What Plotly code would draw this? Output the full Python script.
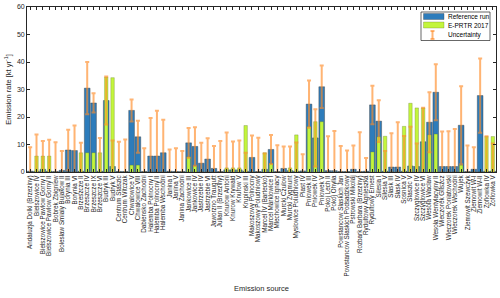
import plotly.graph_objects as go

sources = [
    "Andaluzja Dolki (Brzeziny)", "Bielszowice IV", "Bielszowice Pawlow Gorny I",
    "Bielszowice Pawlow Gorny II", "Bobrek Zbigniew", "Boleslaw Smialy Bujakow II",
    "Borynia III", "Borynia VI", "Brzeszcze II", "Brzeszcze IV", "Brzeszcze IX",
    "Brzeszcze VI", "Budryk III", "Budryk V", "Centrum Staszic", "Centrum Witczak",
    "Chwalowice V", "Chwalowice VIII", "Dabiensko Zachodni", "Halemba Polnocny I",
    "Halemba Polnocny II", "Halemba Wschodni", "Janina I", "Janina V",
    "Janina Zachodni", "Jankowice III", "Jankowice IV", "Jastrzebie IV",
    "Jastrzebie VI", "Jaworzno Traugutt", "Julian II (Brzeziny)", "Knurow Antoni",
    "Knurow Krywald", "Knurow V", "Krupinski III", "Makoszowy Polnocny",
    "Makoszowy Poludniowy", "Marcel IV (Bartecko)", "Marcel Marklowice I",
    "Mlechowice Ignacy", "Murcki Czulow", "Murcki Zygmunt", "Myslowice Poludniowy",
    "Piast IV", "Pniowek III", "Pniowek IV", "Pniowek V", "Pokoj Lech II",
    "Pokoj Ohylia", "Powstancow Slaskich Jan", "Powstancow Slaskich Podsadzkowy",
    "Pstrowski Mikolaj", "Rozbark Barbara (Brzeziny)", "Rydultowy Agnieszka",
    "Rydultowy Ernest", "Silesia I", "Silesia V", "Slask III", "Slask IV",
    "Sosnica V", "Staszic V", "Szczyglowice IV", "Szczyglowice VI", "Wesola Waclaw",
    "Wesola Wentylacyjny II", "Wieczorek Gliszcz", "Wieczorek Poniatowski",
    "Wieczorek Wschodni", "Wujek", "Ziemowit Szewczyk", "Ziemowit W-I",
    "Ziemowit W-II", "Zofiowka IV", "Zofiowka V",
]

reference_run = [
    0.3, 0.3, 1.0, 0.3, 0.2, 0.6, 8.0, 7.8, 0.3, 30.5, 25.1, 0.3, 26.0, 2.0, 0.2, 0.2,
    22.4, 12.8, 0.2, 5.8, 5.8, 7.0, 0.3, 0.2, 0.2, 10.6, 9.3, 3.2, 4.7, 1.3, 0.2, 0.8,
    0.8, 0.8, 0.3, 5.3, 0.2, 1.0, 8.2, 0.2, 1.3, 0.5, 0.3, 0.4, 24.7, 12.4, 31.0, 0.5,
    0.5, 0.2, 0.2, 1.0, 0.2, 0.3, 24.4, 18.5, 0.3, 1.8, 1.8, 0.3, 2.2, 2.0, 11.0, 18.1,
    29.0, 2.0, 2.0, 2.0, 17.0, 0.2, 1.0, 27.8, 0.3, 0.3,
]

eprtr_2017 = [
    0, 5.8, 5.8, 5.8, 0, 0, 0, 0, 7.0, 7.0, 7.0, 7.0, 34.5, 34.3, 0, 0,
    2.5, 2.5, 0, 0, 0, 0, 0, 0, 0, 5.5, 2.2, 0, 0, 0, 0, 1.5,
    1.5, 1.5, 16.9, 0, 0, 7.0, 3.0, 0, 0, 1.5, 13.5, 0, 16.5, 18.3, 18.3, 0,
    0, 0, 0, 0, 0, 0, 7.3, 12.8, 13.0, 0, 0, 16.6, 25.0, 23.3, 23.3, 13.5,
    13.8, 0, 0, 0, 2.5, 0, 0, 0, 12.9, 12.9,
]

uncertainty = [
    8.7, 13.3, 10.3, 11.4, 10.6, 7.0, 7.4, 9.1, 10.3, 9.5, 3.5, 12.1, 8.7, 9.5, 10.8, 11.6,
    4.0, 5.8, 8.4, 13.8, 16.5, 12.0, 7.9, 8.4, 7.4, 5.4, 7.0, 7.4, 7.6, 8.2, 11.1, 13.6,
    10.3, 10.7, 6.7, 8.0, 12.3, 5.7, 5.3, 9.5, 8.0, 8.8, 10.4, 6.1, 8.6, 10.4, 7.7, 12.5,
    14.4, 9.3, 7.6, 8.6, 14.3, 4.8, 7.0, 7.6, 7.3, 12.3, 16.3, 12.8, 14.3, 8.4, 12.4, 10.9,
    10.2, 12.7, 12.8, 13.6, 14.2, 9.4, 8.0, 13.5, 12.7, 10.1,
]

y_ticks = [0, 10, 20, 30, 40, 50, 60]
legend_labels = ["Reference run", "E-PRTR 2017", "Uncertainty"]

FONT = "Liberation Sans, Arial, sans-serif"
TXT = "#262626"
BLUE = "#2d7cbb"
GREEN = "#c3f53c"
ORANGE = "rgba(255,140,40,0.65)"

fig = go.Figure()
fig.add_trace(go.Bar(
    x=sources, y=reference_run, name=legend_labels[0], width=0.9,
    marker=dict(color=BLUE, line=dict(color="rgba(60,60,60,0.7)", width=0.6)),
))
fig.add_trace(go.Bar(
    x=sources, y=eprtr_2017, name=legend_labels[1], width=0.55,
    marker=dict(color=GREEN, line=dict(color="rgba(90,110,40,0.6)", width=0.5)),
))
fig.add_trace(go.Scatter(
    x=sources, y=reference_run, name=legend_labels[2], mode="markers",
    marker=dict(size=1, color="rgba(0,0,0,0)"),
    error_y=dict(type="data", array=uncertainty, visible=True,
                 color=ORANGE, thickness=2, width=2),
))

# manual compact legend (paper coordinates)
def px(x):
    return (x - 27) / 469.0

def py(y):
    return 1 - (y - 7) / 165.0

shapes = [
    dict(type="rect", xref="paper", yref="paper", x0=px(421), x1=px(490), y0=py(40.5), y1=py(12),
         fillcolor="white", line=dict(color=TXT, width=0.7)),
    dict(type="rect", xref="paper", yref="paper", x0=px(423.5), x1=px(444), y0=py(19.5), y1=py(13.5),
         fillcolor=BLUE, line=dict(color="rgba(60,60,60,0.7)", width=0.5)),
    dict(type="rect", xref="paper", yref="paper", x0=px(423.5), x1=px(444), y0=py(28), y1=py(22),
         fillcolor=GREEN, line=dict(color="rgba(90,110,40,0.6)", width=0.5)),
    dict(type="line", xref="paper", yref="paper", x0=px(432.5), x1=px(432.5), y0=py(39), y1=py(31),
         line=dict(color=ORANGE, width=2)),
    dict(type="line", xref="paper", yref="paper", x0=px(430.5), x1=px(434.5), y0=py(39), y1=py(39),
         line=dict(color=ORANGE, width=2)),
    dict(type="line", xref="paper", yref="paper", x0=px(430.5), x1=px(434.5), y0=py(31), y1=py(31),
         line=dict(color=ORANGE, width=2)),
]
annotations = [
    dict(xref="paper", yref="paper", x=px(446), y=py(yy), text=t, showarrow=False,
         xanchor="left", yanchor="middle", font=dict(size=6.5, color="black"))
    for t, yy in zip(legend_labels, [16.5, 25, 35])
]

fig.update_layout(
    width=500, height=298,
    margin=dict(l=27, r=4, t=7, b=126, autoexpand=False),
    barmode="overlay", bargap=0.1,
    paper_bgcolor="white", plot_bgcolor="white",
    font=dict(family=FONT, size=7, color=TXT),
    showlegend=False,
    shapes=shapes, annotations=annotations,
)
fig.update_xaxes(
    type="category", tickangle=-90, tickfont=dict(size=6.3, color=TXT),
    tickmode="array", tickvals=sources, ticktext=sources,
    showline=True, linecolor=TXT, linewidth=0.8, mirror="ticks",
    ticks="inside", ticklen=3, tickcolor=TXT, showgrid=False, automargin=False,
    title=dict(text="Emission source", font=dict(size=7.5, color=TXT), standoff=10),
    range=[-0.5, len(sources) - 0.5],
)
fig.update_yaxes(
    range=[0, 60], tickvals=y_ticks, tickfont=dict(size=7, color=TXT),
    showline=True, linecolor=TXT, linewidth=0.8, mirror="ticks",
    ticks="inside", ticklen=3, tickcolor=TXT, showgrid=False, zeroline=False,
    automargin=False,
    title=dict(text="Emission rate [kt yr<sup>-1</sup>]", font=dict(size=7.5, color=TXT), standoff=4),
)

fig.write_html(
    "out.html",
    config={"displayModeBar": False},
    post_script="document.body.style.margin='0';document.body.style.overflow='hidden';",
)
